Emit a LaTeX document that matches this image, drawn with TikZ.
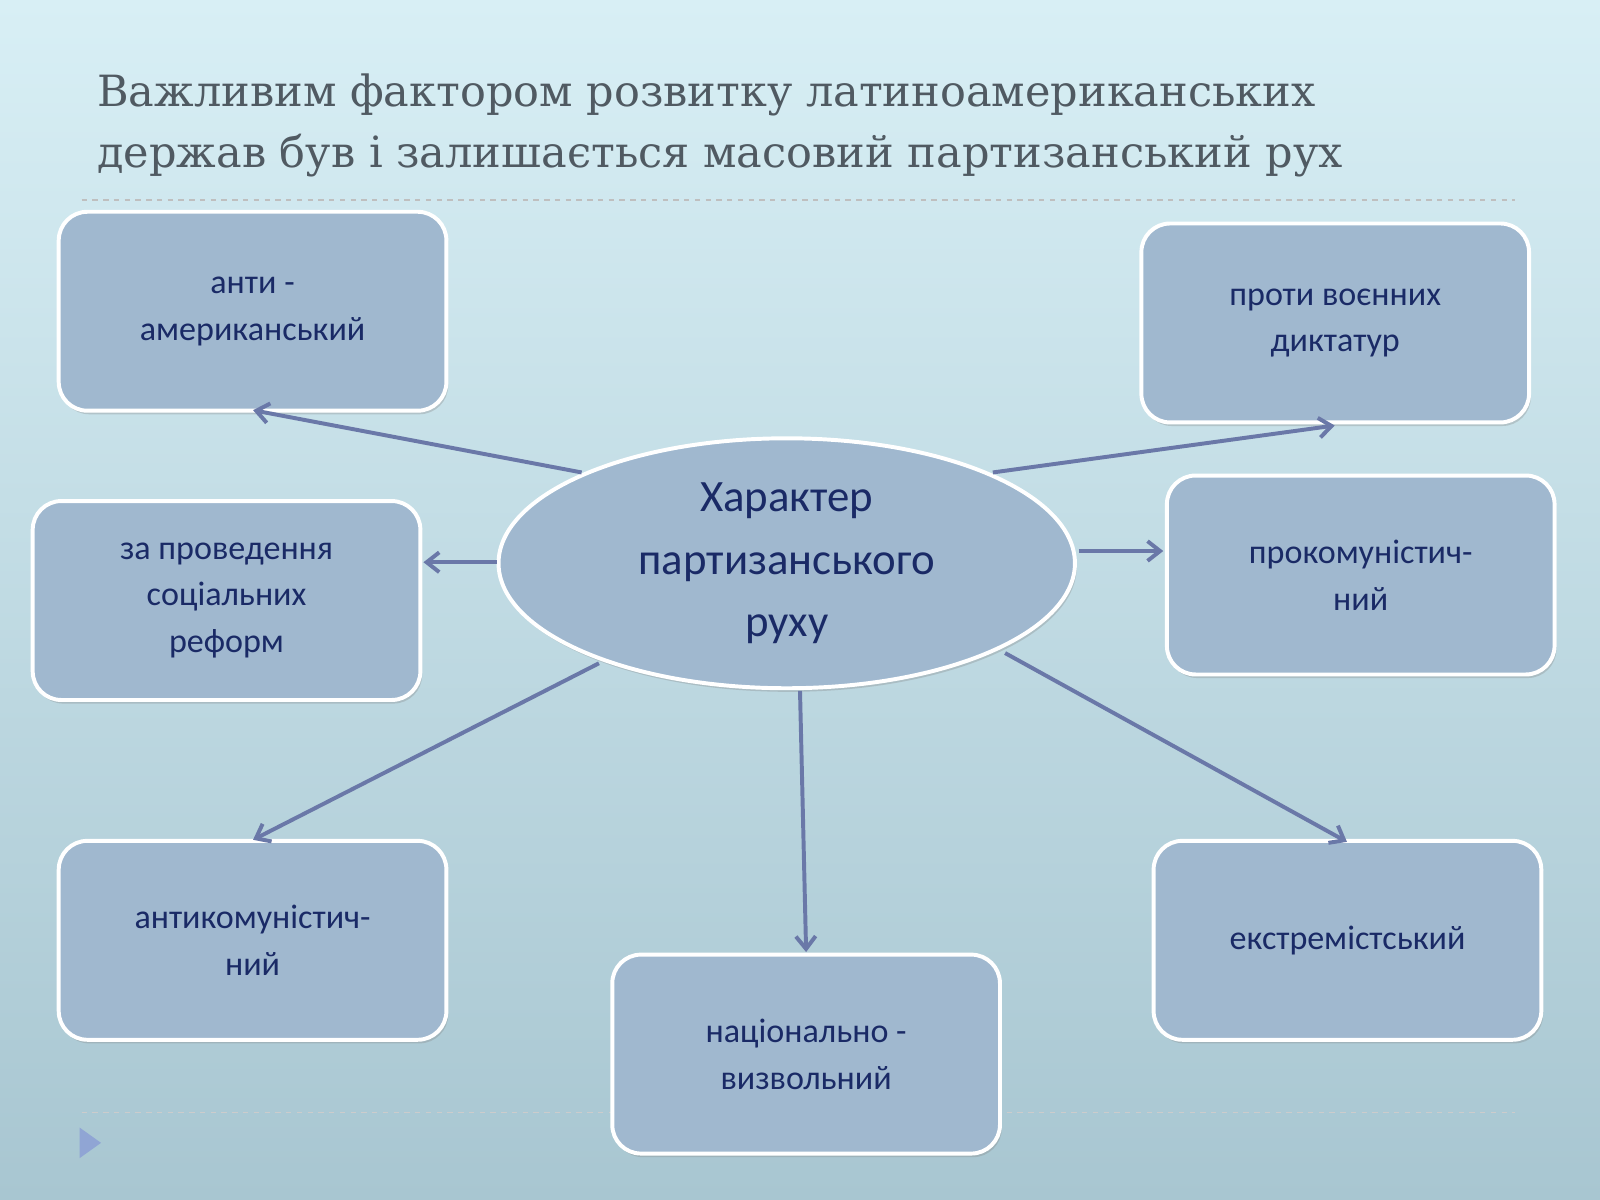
\documentclass[tikz,border=0pt]{standalone}
\usepackage{fontspec}
\setmainfont{Carlito}
\newfontfamily\titlefont{DejaVu Serif}
\usetikzlibrary{shapes.geometric,arrows.meta,shadows}
\definecolor{bgtop}{HTML}{D8EFF5}
\definecolor{bgbot}{HTML}{A8C6D1}
\definecolor{boxfill}{HTML}{A0B8CF}
\definecolor{txt}{HTML}{1A2A66}
\definecolor{arr}{HTML}{6A78A8}
\definecolor{ttl}{HTML}{505A62}
\tikzset{
  card/.style={draw=white,line width=2.2pt,fill=boxfill,rounded corners=16pt,drop shadow={shadow xshift=1pt,shadow yshift=-2pt,opacity=0.3},font=\fontsize{19}{26}\selectfont,text=txt,align=center,minimum width=7.6cm,minimum height=3.9cm,inner sep=0pt},
  conn/.style={arr,line width=2.2pt,-{Straight Barb[length=7pt,width=11pt]}}
}
\begin{document}
\begin{tikzpicture}[x=0.02cm,y=-0.02cm]
\shade[top color=bgtop,bottom color=bgbot] (0,0) rectangle (1568,1176);
\useasboundingbox (0,0) rectangle (1568,1176);
\draw[gray!50,dashed,line width=0.6pt] (80,196) -- (1485,196);
\draw[gray!40,dashed,line width=0.6pt] (80,1090) -- (1485,1090);
\fill[boxfill!90!blue] (78,1105) -- (99,1120) -- (78,1135) -- cycle;
\node[anchor=north west,text=ttl,align=left,font=\titlefont\fontsize{24}{34}\selectfont,inner sep=0pt] (title) at (95,72) {Важливим фактором розвитку латиноамериканських\\держав був і залишається масовий партизанський рух};
\node[card] (b1) at (247.5,305) {анти -\\американський};
\node[card] (b2) at (1308.5,316.5) {проти воєнних\\диктатур};
\node[card] (b3) at (222,588.5) {за проведення\\соціальних\\реформ};
\node[card] (b4) at (1333.5,563.5) {прокомуністич-\\ний};
\node[card] (b5) at (247.5,921.5) {антикомуністич-\\ний};
\node[card] (b6) at (790,1033) {національно -\\визвольний};
\node[card] (b7) at (1320.5,921.5) {екстремістський};
\node[ellipse,draw=white,line width=2.2pt,fill=boxfill,minimum width=11.3cm,minimum height=4.9cm,inner sep=0pt,align=center,text=txt,font=\fontsize{25}{35}\selectfont,drop shadow={shadow xshift=1pt,shadow yshift=-2pt,opacity=0.3}] (c) at (771,552) {Характер\\партизанського\\руху};
\coordinate (s1) at (570,463); \coordinate (e1) at (248,402);
\coordinate (s2) at (973,463); \coordinate (e2) at (1308,417);
\coordinate (s3) at (487,551); \coordinate (e3) at (415,551);
\coordinate (s4) at (1057,540); \coordinate (e4) at (1140,540);
\coordinate (s5) at (587,650); \coordinate (e5) at (248,823);
\coordinate (s6) at (784,677); \coordinate (e6) at (790,933);
\coordinate (s7) at (985,640); \coordinate (e7) at (1320,825);
\foreach \i in {1,...,7} {\draw[conn] (s\i) -- (e\i);}
\end{tikzpicture}
\end{document}
